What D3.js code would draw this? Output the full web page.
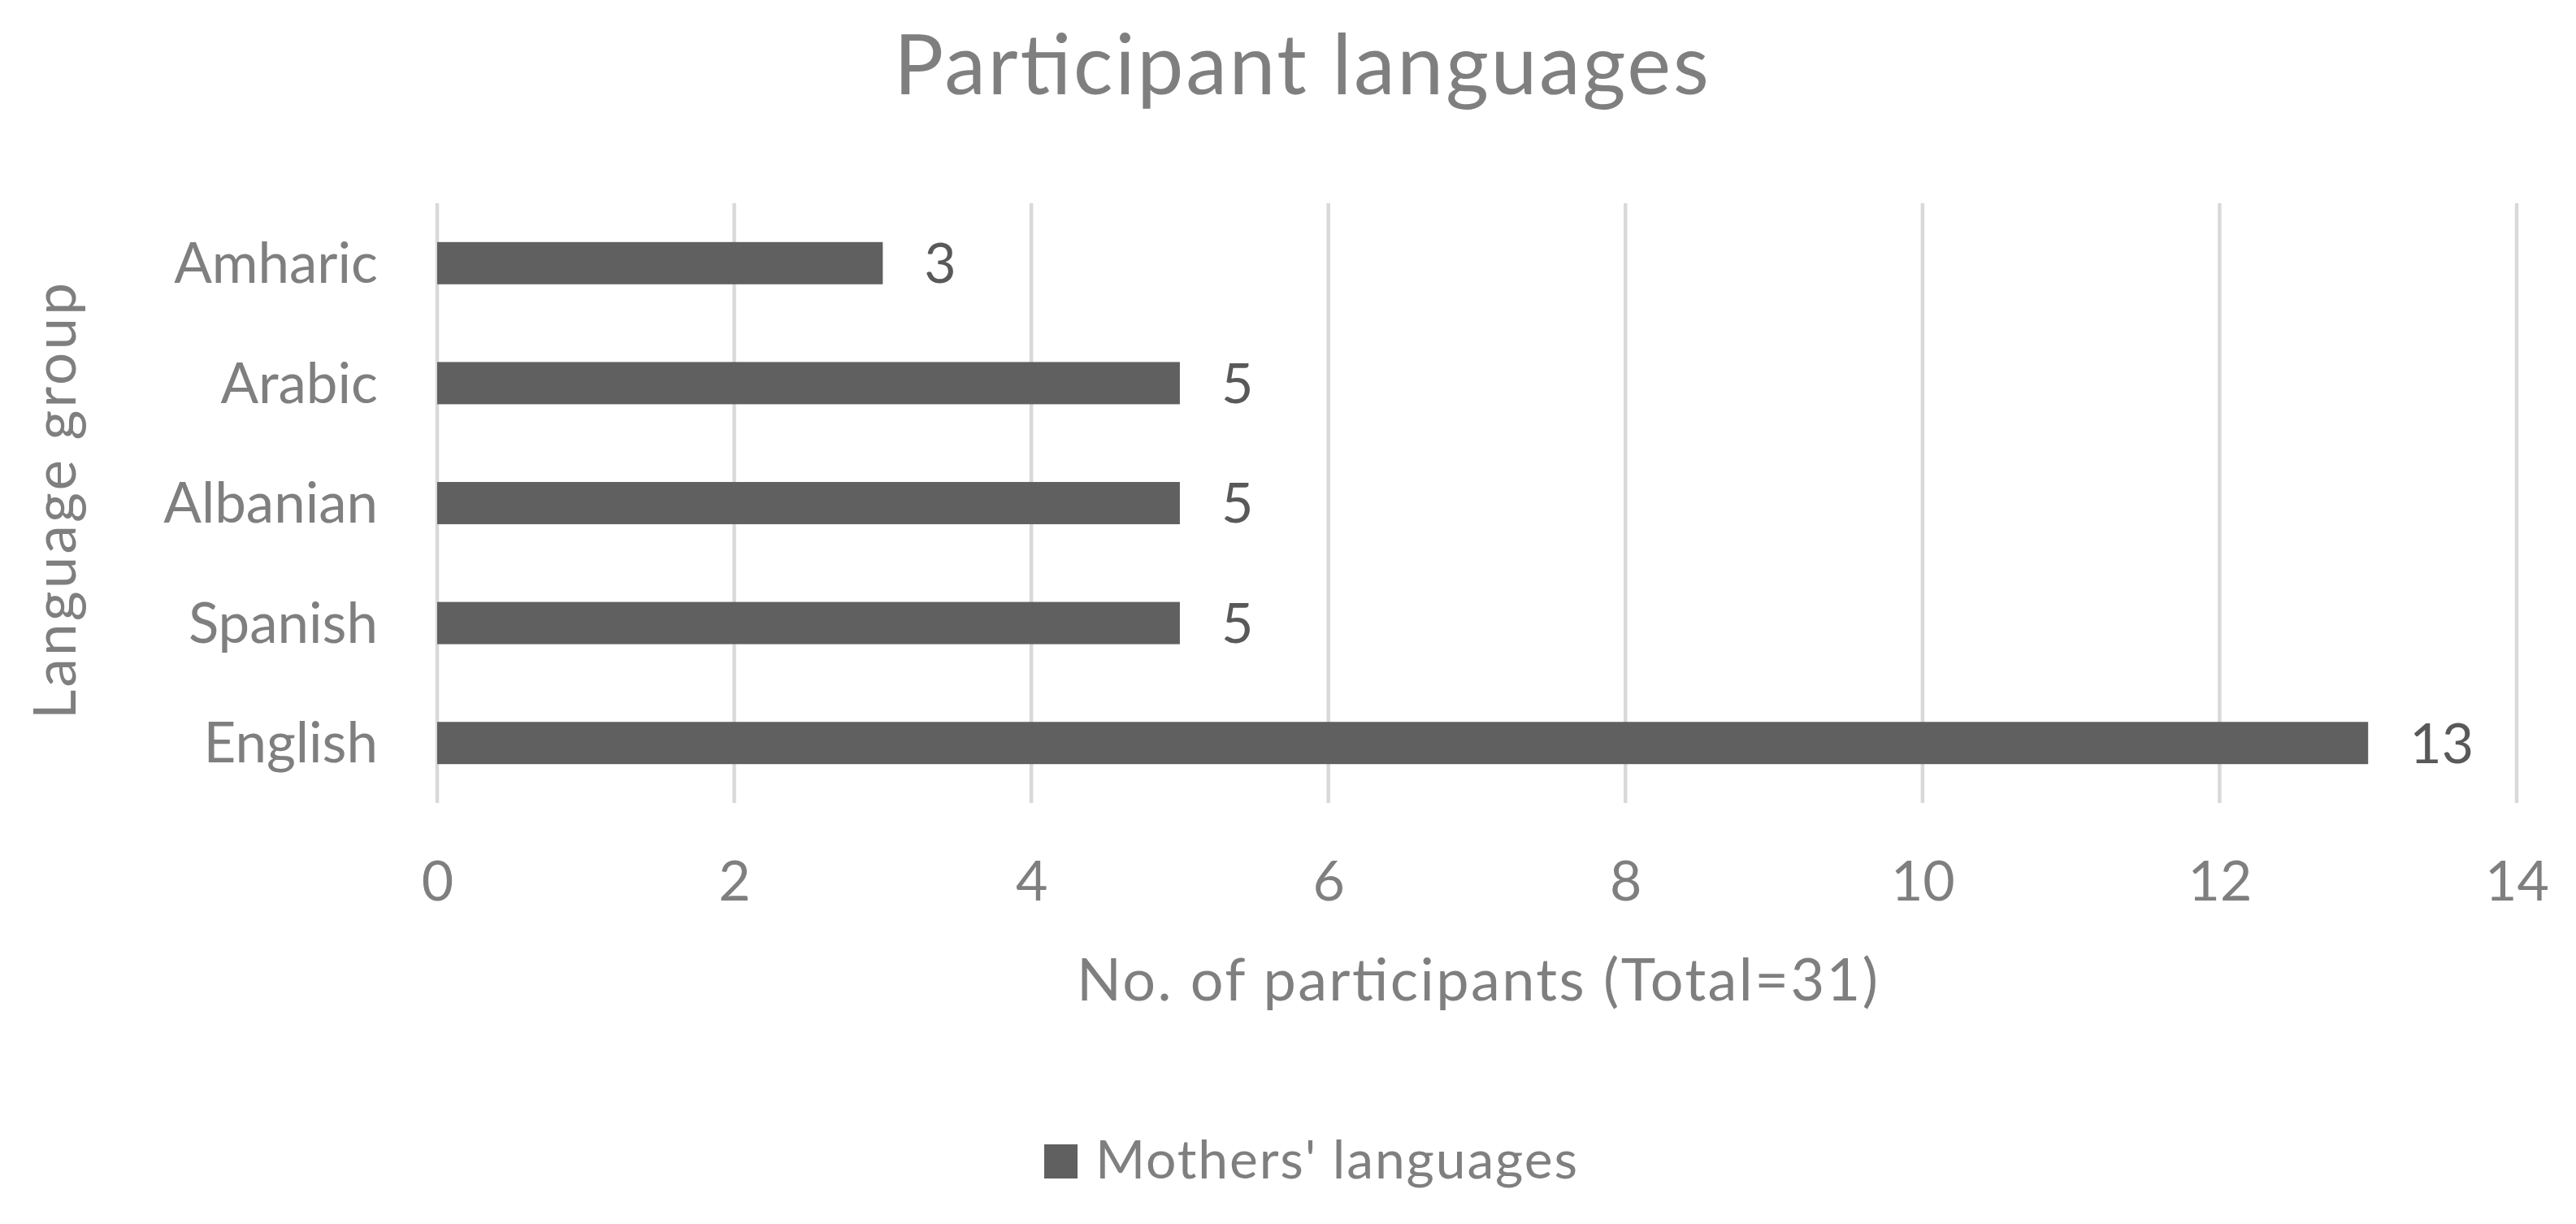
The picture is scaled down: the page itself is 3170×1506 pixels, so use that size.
<!DOCTYPE html>
<html>
<head>
<meta charset="utf-8">
<script src="https://cdn.jsdelivr.net/npm/d3@7"></script>
<style>
  html, body { margin: 0; padding: 0; background: #ffffff; }
  svg { display: block; }
</style>
</head>
<body>
<svg id="chart" width="3170" height="1506"></svg>
<script>
// ---- data ----
const categories = ["Amharic", "Arabic", "Albanian", "Spanish", "English"];
const values = [3, 5, 5, 5, 13];
const xTicks = [0, 2, 4, 6, 8, 10, 12, 14];
const seriesName = "Mothers' languages";
const titleText = "Participant languages";
const xTitleText = "No. of participants (Total=31)";
const yTitleText = "Language group";

// ---- layout ----
const W = 3170, H = 1506;
const plot = { left: 538, right: 3097, top: 250, bottom: 988 };
const FONT = "Lato, 'Open Sans', sans-serif";
const labelGrey = "#7f7f7f";
const valueGrey = "#595959";
const barColor = "#606060";
const gridColor = "#d9d9d9";

const svg = d3.select("#chart");
svg.append("rect").attr("width", W).attr("height", H).attr("fill", "#fff");

const x = d3.scaleLinear().domain([0, 14]).range([plot.left, plot.right]);
const y = d3.scaleBand().domain(categories).range([plot.top, plot.bottom])
  .paddingInner(0.648).paddingOuter(0.324);

// gridlines
svg.append("g").selectAll("line").data(xTicks).join("line")
  .attr("x1", d => x(d)).attr("x2", d => x(d))
  .attr("y1", plot.top).attr("y2", plot.bottom)
  .attr("stroke", gridColor).attr("stroke-width", 4.5);

// x axis tick labels via d3 axis
const xAxis = d3.axisBottom(x).tickValues(xTicks).tickSize(0).tickPadding(0).tickFormat(d3.format("d"));
const gx = svg.append("g").attr("transform", `translate(0, ${1108})`).call(xAxis);
gx.select(".domain").remove();
gx.selectAll("text").attr("dy", 0).attr("y", 0)
  .attr("font-family", FONT).attr("font-size", 68).attr("fill", labelGrey);

// y axis category labels via d3 axis
const yAxis = d3.axisLeft(y).tickSize(0).tickPadding(0);
const gy = svg.append("g").attr("transform", `translate(465, 0)`).call(yAxis);
gy.select(".domain").remove();
gy.selectAll("text").attr("x", 0).attr("dy", "0.35em")
  .attr("font-family", FONT).attr("font-size", 69).attr("fill", labelGrey)
  .attr("text-anchor", "end");

// bars
svg.append("g").selectAll("rect").data(categories).join("rect")
  .attr("x", x(0))
  .attr("y", d => y(d))
  .attr("width", (d, i) => x(values[i]) - x(0))
  .attr("height", y.bandwidth())
  .attr("fill", barColor);

// value labels
svg.append("g").selectAll("text").data(categories).join("text")
  .attr("x", (d, i) => x(values[i]) + 51)
  .attr("y", d => y(d) + y.bandwidth() / 2)
  .attr("dy", "0.36em")
  .attr("font-family", FONT).attr("font-size", 68).attr("fill", valueGrey)
  .text((d, i) => values[i]);

// title
svg.append("text").attr("x", 1100).attr("y", 115.5).attr("text-anchor", "start")
  .attr("font-family", FONT).attr("font-size", 102).attr("fill", labelGrey)
  .attr("textLength", 1003).attr("lengthAdjust", "spacing")
  .text(titleText);

// x axis title
svg.append("text").attr("x", 1325).attr("y", 1231).attr("text-anchor", "start")
  .attr("font-family", FONT).attr("font-size", 72).attr("fill", labelGrey)
  .attr("textLength", 986).attr("lengthAdjust", "spacing")
  .text(xTitleText);

// y axis title
svg.append("text")
  .attr("transform", `translate(93, 885) rotate(-90)`)
  .attr("text-anchor", "start")
  .attr("font-family", FONT).attr("font-size", 71).attr("fill", labelGrey)
  .attr("textLength", 537).attr("lengthAdjust", "spacing")
  .text(yTitleText);

// legend
const lg = svg.append("g");
lg.append("rect").attr("x", 1285).attr("y", 1408).attr("width", 41).attr("height", 42).attr("fill", barColor);
lg.append("text").attr("x", 1348).attr("y", 1450)
  .attr("font-family", FONT).attr("font-size", 66).attr("fill", labelGrey)
  .attr("textLength", 593).attr("lengthAdjust", "spacing")
  .text(seriesName);
</script>
</body>
</html>
